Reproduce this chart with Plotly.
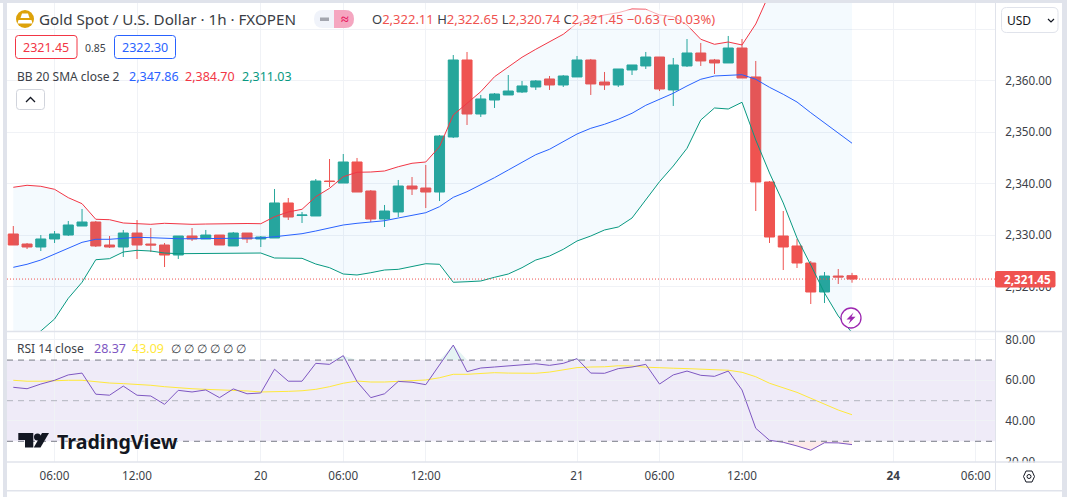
# Gold Spot / U.S. Dollar 1h, velas con Bandas de Bollinger y RSI
import plotly.graph_objects as go

W, H = 1067, 497

# Datos de precio
opens = [2330.21, 2328.26, 2327.68, 2329.24, 2330.01, 2331.76, 2332.54, 2328.07, 2327.68, 2330.40,
         2328.26, 2328.07, 2326.12, 2329.82, 2329.24, 2330.01, 2327.88, 2330.40, 2329.24, 2329.43,
         2336.24, 2333.80, 2333.71, 2340.51, 2340.12, 2344.21, 2338.57, 2333.12, 2334.49, 2339.54,
         2339.15, 2338.37, 2349.07, 2364.04, 2353.54, 2356.26, 2357.24, 2357.82, 2358.79, 2360.35,
         2359.18, 2360.74, 2364.04, 2359.76, 2359.18, 2362.10, 2362.88, 2364.62, 2358.21, 2362.88,
         2365.40, 2364.04, 2363.46, 2366.37, 2360.74, 2340.32, 2329.82, 2327.88, 2324.57, 2318.93,
         2322.04, 2322.11]
highs = [2331.76, 2328.46, 2330.01, 2330.79, 2332.74, 2335.07, 2332.74, 2329.82, 2330.99, 2332.93,
         2331.37, 2328.46, 2329.82, 2331.37, 2330.99, 2330.01, 2330.60, 2330.40, 2329.82, 2338.96,
         2337.21, 2334.49, 2340.90, 2344.79, 2345.76, 2344.99, 2338.76, 2335.85, 2340.71, 2341.29,
         2343.63, 2349.46, 2365.01, 2365.60, 2357.24, 2357.62, 2361.12, 2359.96, 2360.15, 2360.93,
         2361.12, 2364.82, 2364.24, 2361.71, 2362.29, 2363.07, 2365.60, 2364.62, 2364.43, 2368.12,
         2367.35, 2364.24, 2368.71, 2368.12, 2363.85, 2340.51, 2334.68, 2329.24, 2324.96, 2322.82,
         2323.40, 2322.65]
lows = [2328.07, 2327.29, 2326.90, 2328.46, 2329.82, 2331.76, 2327.68, 2327.49, 2325.74, 2325.35,
        2326.71, 2323.79, 2325.35, 2328.85, 2329.24, 2328.07, 2327.88, 2328.46, 2327.68, 2329.43,
        2332.93, 2332.35, 2333.71, 2339.35, 2340.12, 2338.37, 2332.54, 2331.57, 2333.51, 2337.79,
        2335.26, 2336.62, 2348.87, 2351.40, 2352.96, 2354.71, 2357.24, 2357.62, 2358.21, 2358.21,
        2358.79, 2360.74, 2357.24, 2358.21, 2358.79, 2361.12, 2362.29, 2358.01, 2355.10, 2362.68,
        2362.88, 2361.32, 2363.46, 2360.54, 2334.68, 2328.46, 2323.21, 2323.60, 2316.60, 2316.79,
        2320.49, 2320.74]
closes = [2328.07, 2327.68, 2329.24, 2330.21, 2331.96, 2332.54, 2327.88, 2327.68, 2330.40, 2328.07,
          2328.07, 2326.12, 2329.82, 2329.24, 2330.01, 2328.07, 2330.40, 2329.24, 2329.62, 2336.24,
          2333.51, 2333.90, 2340.51, 2340.41, 2344.21, 2338.37, 2333.12, 2334.68, 2339.54, 2338.96,
          2338.37, 2349.26, 2364.04, 2353.54, 2356.46, 2357.43, 2358.01, 2358.99, 2359.96, 2359.18,
          2360.93, 2364.04, 2359.38, 2359.18, 2362.29, 2363.07, 2364.62, 2358.40, 2363.07, 2365.40,
          2363.85, 2363.46, 2366.37, 2360.54, 2340.32, 2329.62, 2327.68, 2324.57, 2318.93, 2322.04,
          2321.85, 2321.45]

# Bandas de Bollinger
bb_upper = [2339.29, 2339.68, 2339.48, 2338.90, 2337.27, 2336.10, 2333.07, 2332.99, 2332.35, 2332.15,
            2332.09, 2332.29, 2332.15, 2332.09, 2332.15, 2332.21, 2332.21, 2332.25, 2332.21, 2333.57,
            2334.49, 2335.01, 2337.46, 2339.09, 2341.35, 2342.21, 2342.26, 2342.46, 2343.29, 2343.96,
            2344.21, 2347.18, 2353.35, 2355.62, 2357.88, 2360.79, 2362.74, 2364.57, 2366.12, 2367.60,
            2369.04, 2371.18, 2372.15, 2372.79, 2373.24, 2373.96, 2373.90, 2372.79, 2372.46, 2370.85,
            2368.07, 2367.09, 2367.54, 2366.96, 2371.04, 2377.00, 2380.00, 2382.00, 2384.00, 2384.60,
            2384.80, 2384.70]
bb_mid = [2323.73, 2324.32, 2325.15, 2326.32, 2327.43, 2328.59, 2329.18, 2329.18, 2329.37, 2329.57,
          2329.49, 2329.37, 2329.29, 2329.29, 2329.33, 2329.29, 2329.37, 2329.37, 2329.43, 2329.68,
          2330.01, 2330.27, 2330.79, 2331.43, 2331.96, 2332.29, 2332.48, 2332.79, 2333.32, 2333.84,
          2334.35, 2335.52, 2337.34, 2338.43, 2339.74, 2341.16, 2342.65, 2344.21, 2345.63, 2346.68,
          2348.10, 2349.65, 2350.76, 2351.54, 2352.51, 2353.68, 2355.23, 2356.46, 2357.57, 2358.99,
          2360.29, 2360.93, 2360.99, 2361.18, 2360.29, 2358.73, 2357.37, 2355.87, 2353.79, 2351.85,
          2349.98, 2347.86]
bb_lower = [2308.04, 2309.60, 2311.35, 2313.68, 2317.71, 2320.82, 2325.21, 2325.41, 2326.71, 2327.04,
            2326.90, 2326.51, 2326.38, 2326.38, 2326.38, 2326.42, 2326.51, 2326.51, 2326.51, 2325.54,
            2325.48, 2325.48, 2324.37, 2323.66, 2322.43, 2322.24, 2322.68, 2323.21, 2323.34, 2323.85,
            2324.43, 2324.32, 2320.82, 2320.93, 2321.07, 2321.79, 2322.43, 2323.66, 2325.15, 2325.93,
            2327.23, 2328.85, 2329.82, 2330.99, 2331.57, 2333.32, 2336.82, 2340.38, 2343.43, 2346.87,
            2352.37, 2354.71, 2354.51, 2355.82, 2348.49, 2342.07, 2336.24, 2329.43, 2324.18, 2318.74,
            2314.26, 2311.03]

# RSI y su media
rsi = [56.6, 55.9, 58.2, 60.05, 62.7, 63.6, 53.2, 52.7, 57.2, 52.7,
       52.3, 48.2, 55.1, 54.3, 55.3, 51.5, 55.8, 53.4, 53.8, 65.5,
       59.6, 59.6, 68.4, 67.9, 72.2, 59.4, 51.5, 53.4, 59.5, 59.1,
       57.9, 67.6, 77.4, 64.3, 66.1, 66.6, 67.1, 67.6, 68.2, 67.4,
       68.4, 70.7, 63.6, 63.5, 65.8, 66.6, 67.9, 58.2, 62.7, 64.6,
       62.5, 62.0, 64.6, 55.3, 36.4, 30.5, 29.5, 27.7, 25.6, 29.3,
       29.2, 28.37]
rsi_ma = [60.05, 59.6, 59.6, 59.9, 60.05, 60.05, 59.2, 58.7, 58.4, 58.1,
          57.6, 56.9, 56.3, 55.9, 55.6, 55.4, 55.3, 54.8, 54.3, 54.3,
          54.6, 54.9, 55.6, 56.9, 58.6, 59.7, 59.2, 59.2, 59.6, 59.9,
          60.2, 61.3, 63.0, 63.0, 63.3, 63.8, 63.6, 63.5, 63.5, 64.1,
          65.3, 66.3, 66.6, 66.7, 67.2, 67.1, 66.5, 66.1, 66.0, 65.8,
          65.5, 65.1, 65.0, 64.0, 61.8, 58.6, 56.4, 54.1, 51.2, 48.4,
          45.4, 43.09]

# Ejes
x_ticks = [3, 9, 18, 24, 30, 41, 47, 53, 64, 70]
x_labels = ["06:00", "12:00", "20", "06:00", "12:00", "21", "06:00", "12:00", "<b>24</b>", "06:00"]
price_ticks = [2320, 2330, 2340, 2350, 2360, 2370]
price_labels = ["2,320.00", "2,330.00", "2,340.00", "2,350.00", "2,360.00", ""]
rsi_ticks = [20, 40, 60, 80]
rsi_levels = [70, 50, 30]

FONT = "Noto Sans"
TEXT = "#3c3f48"
RED = "#ef5350"
TEAL = "#26a69a"
YELLOW = "#ffe93b"
GRID = "#f0f2f6"
BORDER = "#e0e3eb"

x = list(range(len(closes)))


def fx(px):
    return px / W


def fy(px):
    return 1 - px / H


def round_box(x0, y0, x1, y1, r=3):
    return (f"M{fx(x0 + r)},{fy(y0)} L{fx(x1 - r)},{fy(y0)} Q{fx(x1)},{fy(y0)} {fx(x1)},{fy(y0 + r)} "
            f"L{fx(x1)},{fy(y1 - r)} Q{fx(x1)},{fy(y1)} {fx(x1 - r)},{fy(y1)} "
            f"L{fx(x0 + r)},{fy(y1)} Q{fx(x0)},{fy(y1)} {fx(x0)},{fy(y1 - r)} "
            f"L{fx(x0)},{fy(y0 + r)} Q{fx(x0)},{fy(y0)} {fx(x0 + r)},{fy(y0)} Z")


def poly(points):
    return "M" + " L".join(f"{fx(a)},{fy(b)}" for a, b in points) + " Z"


def open_poly(points):
    return "M" + " L".join(f"{fx(a)},{fy(b)}" for a, b in points)


fig = go.Figure()

# Bandas
fig.add_trace(go.Scatter(x=x, y=bb_upper, mode="lines", line=dict(color="#f23645", width=1)))
fig.add_trace(go.Scatter(x=x, y=bb_lower, mode="lines", line=dict(color="#089981", width=1),
                         fill="tonexty", fillcolor="rgba(33,150,243,0.05)"))
fig.add_trace(go.Scatter(x=x, y=bb_mid, mode="lines", line=dict(color="#2962ff", width=1)))

# Velas
fig.add_trace(go.Candlestick(
    x=x, open=opens, high=highs, low=lows, close=closes, whiskerwidth=0,
    increasing=dict(line=dict(color=TEAL, width=1), fillcolor=TEAL),
    decreasing=dict(line=dict(color=RED, width=1), fillcolor=RED),
))

# RSI: zonas fuera de 70 y 30
fig.add_trace(go.Scatter(x=x, y=[70] * len(x), mode="lines", line=dict(width=0), xaxis="x2", yaxis="y2"))
fig.add_trace(go.Scatter(x=x, y=[max(v, 70) for v in rsi], mode="lines", line=dict(width=0), fill="tonexty",
                         fillcolor="rgba(38,166,154,0.12)", xaxis="x2", yaxis="y2"))
fig.add_trace(go.Scatter(x=x, y=[30] * len(x), mode="lines", line=dict(width=0), xaxis="x2", yaxis="y2"))
fig.add_trace(go.Scatter(x=x, y=[min(v, 30) for v in rsi], mode="lines", line=dict(width=0), fill="tonexty",
                         fillcolor="rgba(239,83,80,0.12)", xaxis="x2", yaxis="y2"))
fig.add_trace(go.Scatter(x=x, y=rsi_ma, mode="lines", line=dict(color=YELLOW, width=1), xaxis="x2", yaxis="y2"))
fig.add_trace(go.Scatter(x=x, y=rsi, mode="lines", line=dict(color="#7e57c2", width=1), xaxis="x2", yaxis="y2"))

shapes = []
# Bloque RSI y niveles
shapes.append(dict(type="rect", xref="x2 domain", x0=0, x1=1, yref="y2", y0=30, y1=70, layer="below",
                   line=dict(width=0), fillcolor="rgba(126,87,194,0.12)"))
for level in rsi_levels:
    shapes.append(dict(type="line", xref="x2 domain", x0=0, x1=1, yref="y2", y0=level, y1=level,
                       line=dict(color="#787b86" if level != 50 else "#b2b5be", width=1, dash="6px,5px")))
# Linea del ultimo precio
shapes.append(dict(type="line", xref="x domain", x0=0, x1=1, yref="y", y0=closes[-1], y1=closes[-1],
                   line=dict(color=RED, width=1, dash="1px,2px")))

# Marco y separadores
paper = dict(xref="paper", yref="paper")
shapes += [
    dict(type="rect", x0=fx(995), x1=fx(1062), y0=fy(490), y1=fy(462.5), fillcolor="white", line=dict(width=0), **paper),
    dict(type="rect", x0=0, x1=1, y0=fy(3), y1=1, fillcolor=BORDER, line=dict(width=0), **paper),
    dict(type="rect", x0=fx(3), x1=fx(7), y0=0, y1=1, fillcolor=BORDER, line=dict(width=0), **paper),
    dict(type="rect", x0=fx(1062), x1=1, y0=0, y1=1, fillcolor=BORDER, line=dict(width=0), **paper),
    dict(type="rect", x0=fx(7), x1=fx(1062), y0=fy(491.5), y1=fy(490), fillcolor=BORDER, line=dict(width=0), **paper),
    dict(type="line", x0=fx(7), x1=fx(1062), y0=fy(331.5), y1=fy(331.5), line=dict(color=BORDER, width=1.5), **paper),
    dict(type="line", x0=fx(7), x1=fx(1062), y0=fy(462), y1=fy(462), line=dict(color=BORDER, width=1.5), **paper),
    dict(type="line", x0=fx(995.5), x1=fx(995.5), y0=fy(3), y1=fy(490), line=dict(color=BORDER, width=1), **paper),
]

# Etiqueta de precio
shapes.append(dict(type="path", path=round_box(995, 271, 1055.5, 287.5, 2), fillcolor=RED, line=dict(width=0), **paper))

# Cajas de bid/ask, selector de moneda y boton
shapes += [
    dict(type="path", path=round_box(15.5, 35.5, 77, 58.5), fillcolor="white", line=dict(color="#f23645", width=1), **paper),
    dict(type="path", path=round_box(114.5, 35.5, 175.5, 58.5), fillcolor="white", line=dict(color="#2962ff", width=1), **paper),
    dict(type="path", path=round_box(16.5, 89.5, 44.5, 109.5), fillcolor="white", line=dict(color="#d1d4dc", width=1), **paper),
    dict(type="path", path=open_poly([(26, 102), (30.5, 97.5), (35, 102)]), line=dict(color="#131722", width=1.3), **paper),
    dict(type="path", path=round_box(1001.5, 7.5, 1058, 32.5, 5), fillcolor="white", line=dict(color=BORDER, width=1), **paper),
    dict(type="path", path=open_poly([(1048, 19), (1051, 22), (1054, 19)]), line=dict(color="#131722", width=1.2), **paper),
]

# Pastilla de estado
shapes += [
    dict(type="path", path=round_box(314, 10, 354, 28, 9), fillcolor="#f0f3fa", line=dict(width=0), **paper),
    dict(type="path", fillcolor="#f5a6c0", line=dict(width=0), **paper,
         path=(f"M{fx(334)},{fy(10)} L{fx(345)},{fy(10)} Q{fx(354)},{fy(10)} {fx(354)},{fy(19)} "
               f"Q{fx(354)},{fy(28)} {fx(345)},{fy(28)} L{fx(334)},{fy(28)} Z")),
    dict(type="rect", x0=fx(320), x1=fx(329), y0=fy(21), y1=fy(17.5), fillcolor="#a3a6af", line=dict(width=0), **paper),
]

# Icono del oro
shapes += [
    dict(type="circle", x0=fx(16), x1=fx(34), y0=fy(28), y1=fy(10), fillcolor="#dda20a", line=dict(width=0), **paper),
    dict(type="path", path=poly([(22, 13.5), (28, 13.5), (29.5, 18), (20.5, 18)]), fillcolor="white", line=dict(width=0), **paper),
    dict(type="path", path=poly([(18.5, 20), (31.5, 20), (32.5, 23.5), (17.5, 23.5)]), fillcolor="white", line=dict(width=0), **paper),
]

# Marca de evento
shapes += [
    dict(type="circle", x0=fx(841), x1=fx(861), y0=fy(328), y1=fy(308), fillcolor="white", line=dict(color="#9c27b0", width=1.3), **paper),
    dict(type="path", path=poly([(853.5, 312.5), (846.5, 319.5), (850.5, 319.5), (848.5, 324), (855.5, 316.8), (851.5, 316.8)]),
         fillcolor="#9c27b0", line=dict(width=0), **paper),
]

# Logo TradingView
shapes += [
    dict(type="path", path=poly([(18.3, 433), (33.3, 433), (33.3, 447.5), (25, 447.5), (25, 440), (18.3, 440)]),
         fillcolor="#131722", line=dict(width=0), **paper),
    dict(type="circle", x0=fx(34), x1=fx(41), y0=fy(440.5), y1=fy(433.5), fillcolor="#131722", line=dict(width=0), **paper),
    dict(type="path", path=poly([(42, 433), (49, 433), (40.5, 447.5), (33.8, 447.5)]), fillcolor="#131722", line=dict(width=0), **paper),
]

# Icono de ajustes
shapes += [
    dict(type="path", path=poly([(1023.5, 476.5), (1026, 471), (1032, 471), (1034.5, 476.5), (1032, 482), (1026, 482)]),
         line=dict(color="#131722", width=1), **paper),
    dict(type="circle", x0=fx(1027), x1=fx(1031), y0=fy(478.5), y1=fy(474.5), line=dict(color="#131722", width=1), **paper),
]


def label(px, py, text, size=12, color=TEXT, anchor="left", **extra):
    return dict(xref="paper", yref="paper", x=fx(px), y=fy(py), text=text, showarrow=False, xanchor=anchor,
                yanchor="middle", borderpad=0, font=dict(family=FONT, size=size, color=color, **extra.pop("font", {})), **extra)


def red(t):
    return f'<span style="color:{RED}">{t}</span>'


annotations = [
    label(38, 19.5, "Gold Spot / U.S. Dollar · 1h · FXOPEN", size=15.2, color="#3a3d45"),
    label(344.5, 18.5, "<b>≈</b>", size=14, color="#e91e63", anchor="center"),
    label(371, 19.5, "O" + red("2,322.11") + " H" + red("2,322.65") + " L" + red("2,320.74") + " C" + red("2,321.45")
          + " " + red("−0.63 (−0.03%)"), size=13, bgcolor="rgba(255,255,255,0.6)"),
    label(46.2, 47.5, "2321.45", size=12.5, color="#f23645", anchor="center"),
    label(95, 47.5, "0.85", size=10.5, anchor="center"),
    label(145, 47.5, "2322.30", size=12.5, color="#2962ff", anchor="center"),
    label(16, 76, "BB 20 SMA close 2", size=12),
    label(127.5, 76, "2,347.86", size=12.5, color="#2962ff"),
    label(184, 76, "2,384.70", size=12.5, color="#f23645"),
    label(240.5, 76, "2,311.03", size=12.5, color="#089981"),
    label(16, 348, "RSI 14 close", size=12),
    label(93, 348, "28.37", size=12.5, color="#7e57c2"),
    label(131, 348, "43.09", size=12.5, color=YELLOW),
    label(170, 348, "∅ ∅ ∅ ∅ ∅ ∅", size=11.5),
    label(1027, 279, "<b>2,321.45</b>", size=11.7, color="white", anchor="center"),
    label(1006, 20, "USD", size=12, color="#131722"),
    label(56, 441, "<b>TradingView</b>", size=19.6, color="#131722", font=dict(shadow="0 0 2px white, 0 0 2px white")),
]

x_range = [-0.458, 71.4]
tick_font = dict(family=FONT, size=11.7, color=TEXT)
fig.update_layout(
    width=W, height=H, margin=dict(l=0, r=0, t=0, b=0, pad=0), autosize=False,
    paper_bgcolor="white", plot_bgcolor="white", showlegend=False, boxgap=0.27, boxgroupgap=0,
    font=dict(family=FONT, size=12, color=TEXT),
    xaxis=dict(domain=[fx(7), fx(995)], range=x_range, anchor="y", tickvals=x_ticks, showticklabels=False, automargin=False,
               gridcolor=GRID, zeroline=False, rangeslider=dict(visible=False)),
    yaxis=dict(domain=[fy(331), fy(3)], range=[2311.35, 2375.12], anchor="x", side="right", tickvals=price_ticks,
               ticktext=price_labels, tickfont=tick_font, automargin=False, gridcolor=GRID, zeroline=False, ticks="outside",
               ticklen=7, tickcolor="rgba(0,0,0,0)"),
    xaxis2=dict(domain=[fx(7), fx(995)], range=x_range, anchor="y2", tickvals=x_ticks, ticktext=x_labels, tickfont=tick_font,
                automargin=False, gridcolor=GRID, zeroline=False, ticks="outside", ticklen=3, tickcolor="rgba(0,0,0,0)"),
    yaxis2=dict(domain=[fy(462), fy(332)], range=[19.8, 83.84], anchor="x2", side="right", tickvals=rsi_ticks, automargin=False,
                tickformat=".2f", tickfont=tick_font, gridcolor=GRID, zeroline=False, ticks="outside", ticklen=7,
                tickcolor="rgba(0,0,0,0)"),
    shapes=shapes, annotations=annotations,
)

fig.write_html("out.html", config={"displayModeBar": False},
               post_script="document.body.style.margin='0';")
